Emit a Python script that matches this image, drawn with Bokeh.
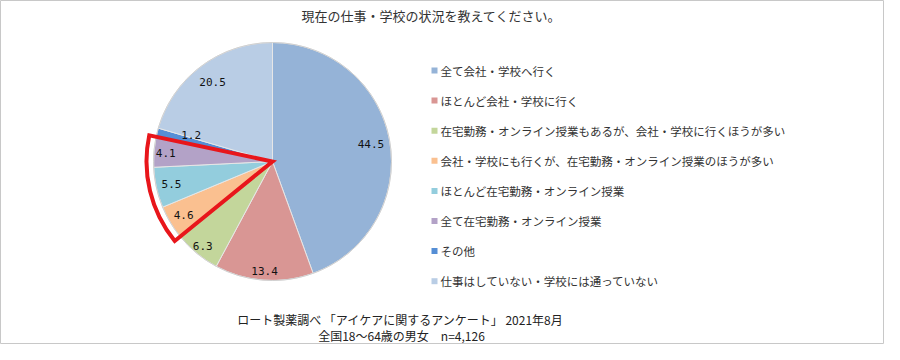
import math
from bokeh.plotting import figure
from bokeh.models import Range1d, ColumnDataSource
from bokeh.core.properties import value
from bokeh.embed import file_html
from bokeh.resources import INLINE

# ---- data ----
title = "現在の仕事・学校の状況を教えてください。"
categories = [
    "全て会社・学校へ行く",
    "ほとんど会社・学校に行く",
    "在宅勤務・オンライン授業もあるが、会社・学校に行くほうが多い",
    "会社・学校にも行くが、在宅勤務・オンライン授業のほうが多い",
    "ほとんど在宅勤務・オンライン授業",
    "全て在宅勤務・オンライン授業",
    "その他",
    "仕事はしていない・学校には通っていない",
]
values = [44.5, 13.4, 6.3, 4.6, 5.5, 4.1, 1.2, 20.5]
highlight = [False, False, False, True, True, True, False, False]
footer1 = "ロート製薬調べ 「アイケアに関するアンケート」 2021年8月"
footer2 = "全国18～64歳の男女　n=4,126"

# ---- style ----
colors = ["#95B3D7", "#D99694", "#C3D69B", "#FAC090", "#93CDDD", "#B3A2C7", "#558ED5", "#B9CDE5"]
label_r = [0.84, 0.92, 0.92, 0.87, 0.87, 0.90, 0.72, 0.84]
label_da = [0, 0, 0, 0, 0, 0, 4, 0]  # angular nudge (degrees, clockwise)
JP = "Noto Sans CJK JP"
W, H = 884, 344
cx, cy, R = 272, 183, 119

total = sum(values)
starts, ends = [], []
acc = 0.0
for v in values:
    starts.append(acc / total * 2 * math.pi)
    acc += v
    ends.append(acc / total * 2 * math.pi)
# clockwise-from-top -> bokeh angle
b_start = [math.pi / 2 - s for s in starts]
b_end = [math.pi / 2 - e for e in ends]

p = figure(width=W, height=H, x_range=Range1d(0, W), y_range=Range1d(0, H),
           output_backend="svg", toolbar_location=None, min_border=0)
p.axis.visible = False
p.grid.visible = False
p.outline_line_color = "#c8c8c8"
p.outline_line_width = 1
p.background_fill_color = "white"
p.border_fill_color = "white"

src = ColumnDataSource(dict(x=[cx] * len(values), y=[cy] * len(values),
                            s=b_start, e=b_end, c=colors))
p.wedge(x="x", y="y", radius=R, start_angle="s", end_angle="e", direction="clock",
        fill_color="c", line_color="#e6e6e6", line_width=1, source=src)
# outer ring
p.circle(x=[cx], y=[cy], radius=R, fill_alpha=0, line_color="#d0d0d0", line_width=1)

# highlight outline around selected slices
hs = [i for i, h in enumerate(highlight) if h]
h_start = b_start[hs[0]]
h_end = b_end[hs[-1]]
p.wedge(x=[cx], y=[cy], radius=R + 7, start_angle=h_start, end_angle=h_end,
        direction="clock", fill_alpha=0, line_color="#E8161B", line_width=4,
        line_join="miter")

# data labels
lx, ly, lt = [], [], []
for i, v in enumerate(values):
    mid = (starts[i] + ends[i]) / 2 + math.radians(label_da[i])
    r = R * label_r[i]
    lx.append(cx + r * math.sin(mid))
    ly.append(cy + r * math.cos(mid))
    lt.append(f"{v:.1f}")
p.text(x=lx, y=ly, text=lt, text_align="center", text_baseline="middle",
       text_font=value("DejaVu Sans Mono"), text_font_size="11px", text_color="#111111")

# legend
leg_x, leg_y0, leg_dy = 434, 274, 30.1
ys = [leg_y0 - i * leg_dy for i in range(len(categories))]
p.rect(x=[leg_x] * len(categories), y=ys, width=6, height=6, fill_color=colors,
       line_color=None)
p.text(x=[leg_x + 6] * len(categories), y=ys, text=categories, text_align="left",
       text_baseline="middle", text_font=value(JP), text_font_size="11.5px",
       text_color="#333333")

# title and footer
p.text(x=[431], y=[329], text=[title], text_align="center", text_baseline="middle",
       text_font=value(JP), text_font_size="13px", text_color="#333333")
p.text(x=[400, 401], y=[25, 9], text=[footer1, footer2], text_align="center",
       text_baseline="middle", text_font=value(JP), text_font_size="12px",
       text_color="#222222")

open("out.html", "w").write(file_html(p, INLINE))
